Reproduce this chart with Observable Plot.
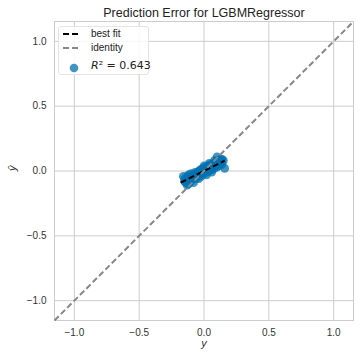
<!DOCTYPE html>
<html>
<head>
<meta charset="utf-8">
<script src="https://cdn.jsdelivr.net/npm/d3@7"></script>
<script src="https://cdn.jsdelivr.net/npm/@observablehq/plot@0.6"></script>
<style>
  html, body { margin: 0; padding: 0; background: #fff; }
  #wrap { position: relative; width: 360px; height: 359px; font-family: "Liberation Sans", Arial, sans-serif; }
  #legend { position: absolute; left: 58px; top: 26px; width: 91px; height: 49px;
    background: rgba(255,255,255,0.85); border: 1px solid #e4e4e4; border-radius: 3px; box-sizing: border-box; }
  #legend svg { position: absolute; left: 0; top: 0; }
  .lt { position: absolute; left: 32px; font-size: 10px; color: #222; line-height: 12px; white-space: nowrap; }
  .r2 { position: absolute; left: 32px; top: 32px; font-size: 11px; color: #222; font-family: "DejaVu Sans", sans-serif; line-height: 14px; white-space: nowrap; }
</style>
</head>
<body>
<div id="wrap"></div>
<script>
// ---- data ----
const title = "Prediction Error for LGBMRegressor";
const xLabel = "y";
const yLabel = "ŷ";
const r2Text = "0.643";
const tickValues = [-1.0, -0.5, 0.0, 0.5, 1.0];
const actual = [-0.15,-0.14,-0.13,-0.13,-0.12,-0.12,-0.11,-0.11,-0.10,-0.10,-0.09,-0.09,-0.08,-0.08,-0.07,-0.07,-0.06,-0.06,-0.05,-0.05,-0.04,-0.04,-0.03,-0.03,-0.02,-0.02,-0.01,-0.01,0.00,0.00,0.01,0.01,0.02,0.02,0.03,0.03,0.04,0.04,0.05,0.05,0.06,0.06,0.07,0.07,0.08,0.08,0.09,0.09,0.10,0.10,0.10,0.11,0.11,0.12,0.12,0.13,0.13,0.14,0.15,0.16,-0.16,-0.15,0.14,-0.12,-0.08,-0.04,0.00,0.04,0.08,0.02,0.06];
const predicted = [-0.06,-0.09,-0.04,-0.11,-0.07,-0.03,-0.05,-0.09,-0.06,-0.02,-0.04,-0.07,-0.03,-0.06,-0.01,-0.05,-0.03,-0.06,-0.01,-0.04,0.00,-0.03,-0.02,0.01,-0.04,0.00,-0.01,0.02,-0.02,0.01,0.00,0.03,-0.01,0.02,0.01,0.04,0.00,0.03,0.02,0.05,0.01,0.04,0.03,0.06,0.02,0.05,0.04,0.07,0.03,0.06,0.11,0.05,0.08,0.04,0.07,0.06,0.09,0.05,0.08,0.02,-0.04,-0.08,0.09,-0.10,-0.09,-0.06,0.04,0.06,0.08,-0.03,-0.01];
const bestFit = [{x1: -0.18, y1: -0.09, x2: 0.16, y2: 0.08}];
const identity = [{x1: -1.153, y1: -1.153, x2: 1.153, y2: 1.153}];
const domain = [-1.153, 1.153];

const points = actual.map((a, i) => ({a, p: predicted[i]}));

const fmt = d3.format(".1f");
const dotColor = "#0072B2";

const chart = Plot.plot({
  width: 360,
  height: 359,
  marginLeft: 54,
  marginRight: 7,
  marginTop: 21,
  marginBottom: 39,
  style: { fontFamily: "Liberation Sans, Arial, sans-serif", fontSize: "10px", color: "#333", background: "#fff" },
  x: { domain, ticks: tickValues, tickFormat: fmt },
  y: { domain, ticks: tickValues, tickFormat: fmt },
  marks: [
    Plot.gridX(tickValues, { stroke: "#cccccc", strokeOpacity: 1 }),
    Plot.gridY(tickValues, { stroke: "#cccccc", strokeOpacity: 1 }),
    Plot.frame({ stroke: "#cccccc" }),
    Plot.axisX(tickValues, { tickSize: 0, tickPadding: 8, tickFormat: fmt, label: null, fill: "#333" }),
    Plot.axisY(tickValues, { tickSize: 0, tickPadding: 8, tickFormat: fmt, label: null, fill: "#333" }),
    Plot.dot(points, { x: "a", y: "p", r: 4.3, fill: dotColor, fillOpacity: 0.75, stroke: "none" }),
    Plot.link(bestFit, { x1: "x1", y1: "y1", x2: "x2", y2: "y2", stroke: "#000", strokeWidth: 2, strokeDasharray: "6 3" }),
    Plot.link(identity, { x1: "x1", y1: "y1", x2: "x2", y2: "y2", stroke: "#888888", strokeWidth: 2, strokeDasharray: "6 3" }),
    Plot.text([title], { frameAnchor: "top", dy: -9, fontSize: 12.5, fill: "#222", lineAnchor: "middle" }),
    Plot.text([xLabel], { frameAnchor: "bottom", dy: 26, fontSize: 11, fontStyle: "italic", fill: "#333" }),
    Plot.text([yLabel], { frameAnchor: "left", dx: -42, rotate: -90, fontSize: 11, fontStyle: "italic", fill: "#333" })
  ]
});

const wrap = document.getElementById("wrap");
wrap.appendChild(chart);

const legend = document.createElement("div");
legend.id = "legend";
legend.innerHTML = `
  <svg width="90" height="48">
    <line x1="4" x2="22" y1="7" y2="7" stroke="#000" stroke-width="2" stroke-dasharray="6 3"/>
    <line x1="4" x2="22" y1="21" y2="21" stroke="#888888" stroke-width="2" stroke-dasharray="6 3"/>
    <circle cx="15" cy="41" r="4.3" fill="${dotColor}" fill-opacity="0.75"/>
  </svg>
  <div class="lt" style="top:1px">best fit</div>
  <div class="lt" style="top:15px">identity</div>
  <div class="r2"><i>R</i>² = ${r2Text}</div>`;
wrap.appendChild(legend);
</script>
</body>
</html>
